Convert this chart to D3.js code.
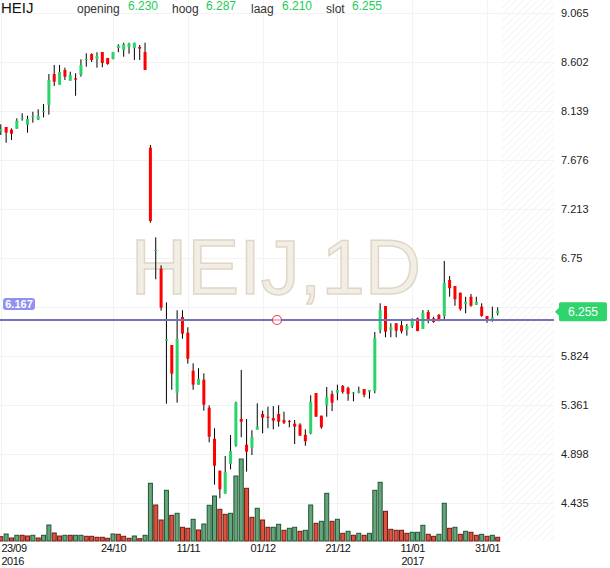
<!DOCTYPE html>
<html>
<head>
<meta charset="utf-8">
<script src="https://cdn.jsdelivr.net/npm/d3@7"></script>
<style>
body { margin: 0; background: #fff; }
svg { font-family: "Liberation Sans", Arial, sans-serif; display: block; }
</style>
</head>
<body>
<svg id="chart" width="610" height="568"></svg>
<script>
//data//
var dates = ["2016-09-23","2016-09-26","2016-09-27","2016-09-28","2016-09-29","2016-09-30",
  "2016-10-03","2016-10-04","2016-10-05","2016-10-06","2016-10-07","2016-10-10","2016-10-11","2016-10-12","2016-10-13","2016-10-14",
  "2016-10-17","2016-10-18","2016-10-19","2016-10-20","2016-10-21","2016-10-24","2016-10-25","2016-10-26","2016-10-27","2016-10-28","2016-10-31",
  "2016-11-01","2016-11-02","2016-11-03","2016-11-04","2016-11-07","2016-11-08","2016-11-09","2016-11-10","2016-11-11",
  "2016-11-14","2016-11-15","2016-11-16","2016-11-17","2016-11-18","2016-11-21","2016-11-22","2016-11-23","2016-11-24","2016-11-25",
  "2016-11-28","2016-11-29","2016-11-30","2016-12-01","2016-12-02","2016-12-05","2016-12-06","2016-12-07","2016-12-08","2016-12-09",
  "2016-12-12","2016-12-13","2016-12-14","2016-12-15","2016-12-16","2016-12-19","2016-12-20","2016-12-21","2016-12-22","2016-12-23",
  "2016-12-27","2016-12-28","2016-12-29","2016-12-30","2017-01-02","2017-01-03","2017-01-04","2017-01-05","2017-01-06",
  "2017-01-09","2017-01-10","2017-01-11","2017-01-12","2017-01-13","2017-01-16","2017-01-17","2017-01-18","2017-01-19","2017-01-20",
  "2017-01-23","2017-01-24","2017-01-25","2017-01-26","2017-01-27","2017-01-30","2017-01-31","2017-02-01","2017-02-02"];

var open = [7.950,7.991,7.965,7.975,8.066,8.012,8.085,8.060,8.130,8.199,
  8.491,8.390,8.529,8.428,8.451,8.485,8.624,8.680,8.633,8.699,
  8.643,8.633,8.737,8.718,8.747,8.737,8.747,8.699,7.795,6.822,
  6.652,5.971,5.931,5.480,6.195,6.047,5.688,5.556,5.603,5.338,
  5.045,4.743,4.526,4.809,4.979,5.232,4.989,4.960,5.131,5.279,
  5.253,5.241,5.279,5.222,5.212,5.187,5.178,5.083,5.096,5.477,
  5.263,5.364,5.468,5.480,5.543,5.525,5.471,5.480,5.515,5.490,
  5.499,6.073,6.299,6.073,6.136,6.117,6.073,6.110,6.183,6.082,
  6.243,6.183,6.214,6.205,6.545,6.488,6.425,6.318,6.387,6.309,
  6.293,6.205,6.167,6.230];

var high = [8.016,7.991,7.978,8.073,8.120,8.097,8.135,8.158,8.208,8.491,
  8.577,8.577,8.551,8.513,8.498,8.630,8.687,8.687,8.697,8.699,
  8.643,8.700,8.772,8.787,8.787,8.787,8.766,8.787,7.821,6.948,
  6.684,6.334,5.931,6.259,6.259,6.098,5.758,5.711,5.663,5.361,
  5.144,4.743,4.882,5.080,5.395,5.695,5.232,5.125,5.380,5.310,
  5.348,5.354,5.361,5.301,5.222,5.222,5.191,5.134,5.456,5.477,
  5.263,5.534,5.499,5.556,5.553,5.537,5.487,5.537,5.515,5.506,
  6.054,6.325,6.299,6.136,6.136,6.160,6.129,6.183,6.190,6.261,
  6.261,6.198,6.224,6.725,6.583,6.488,6.425,6.387,6.413,6.387,
  6.325,6.205,6.293,6.287];

var low = [7.915,7.842,7.868,7.975,8.050,7.937,8.031,8.057,8.082,8.107,
  8.378,8.390,8.435,8.428,8.286,8.466,8.560,8.605,8.551,8.555,
  8.579,8.630,8.697,8.655,8.683,8.624,8.624,8.529,7.086,6.552,
  6.255,5.376,5.508,5.386,5.990,5.754,5.508,5.556,5.310,5.011,
  4.611,4.482,4.526,4.756,4.970,5.059,4.734,4.891,5.131,5.096,
  5.144,5.134,5.159,5.184,5.153,4.995,5.074,4.979,5.087,5.253,
  5.140,5.253,5.307,5.408,5.471,5.404,5.399,5.474,5.437,5.423,
  5.474,6.041,6.004,6.004,6.004,6.041,6.019,6.091,6.060,6.082,
  6.136,6.141,6.155,6.160,6.387,6.302,6.255,6.230,6.293,6.309,
  6.198,6.141,6.151,6.210];

var close = [7.969,7.937,7.927,8.050,8.076,8.066,8.095,8.095,8.142,8.435,
  8.419,8.510,8.466,8.482,8.438,8.577,8.633,8.624,8.662,8.595,
  8.586,8.697,8.759,8.772,8.778,8.787,8.731,8.529,7.103,6.828,
  6.283,5.987,5.660,5.987,6.038,5.801,5.556,5.612,5.367,5.064,
  4.790,4.567,4.731,4.929,5.386,5.206,4.923,5.062,5.159,5.244,
  5.244,5.216,5.206,5.197,5.206,5.159,5.074,5.021,5.392,5.253,
  5.153,5.442,5.386,5.506,5.487,5.468,5.480,5.496,5.461,5.506,
  5.997,6.262,6.057,6.098,6.066,6.060,6.110,6.160,6.063,6.236,
  6.167,6.148,6.174,6.519,6.467,6.363,6.271,6.337,6.302,6.340,
  6.205,6.160,6.192,6.255];

//volume in thousands, colour flag 1 = green bar//
var volume = [86,140,60,114,114,100,114,60,114,320,
  160,100,114,114,114,114,94,94,74,74,
  54,140,134,94,54,100,46,114,1154,720,
  420,1014,514,554,274,254,434,220,340,714,
  900,634,534,554,1300,1640,1054,474,654,420,
  274,274,334,214,254,274,194,214,720,354,
  394,954,394,434,154,194,114,154,114,154,
  1014,1174,594,234,214,214,154,174,174,314,
  134,94,134,754,254,274,134,194,174,114,
  134,94,114,74];
var volUp = [0,1,0,1,0,0,1,0,1,1, 0,0,1,0,1,1,0,0,0,0, 0,1,0,0,0,1,0,1,1,0,
  0,1,0,1,0,0,1,0,1,1, 1,0,0,1,1,1,0,0,1,0, 0,1,1,0,1,1,0,1,1,0,
  1,1,0,1,0,1,0,1,0,1, 1,1,0,0,0,0,0,1,1,1, 0,0,1,1,0,1,0,1,0,0,
  1,0,1,0];

var priceTicks = [9.065, 8.602, 8.139, 7.676, 7.213, 6.75, 6.287, 5.824, 5.361, 4.898, 4.435];
var priceLabels = ["9.065","8.602","8.139","7.676","7.213","6.75","","5.824","5.361","4.898","4.435"];
var dateTicks = ["2016-09-23","2016-10-24","2016-11-11","2016-12-01","2016-12-21","2017-01-11","2017-01-31"];
var dateLabels = ["23/09","24/10","11/11","01/12","21/12","11/01","31/01"];
var yearLabels = {"2016-09-23": "2016", "2017-01-11": "2017"};

var symbol = "HEIJ";
var lastPrice = 6.255;
var linePrice = 6.167;
var header = [{label: "opening", value: "6.230"}, {label: "hoog", value: "6.287"},
              {label: "laag", value: "6.210"}, {label: "slot", value: "6.255"}];

//layout//
var plot = {left: 0, right: 554, top: 0, bottom: 541};
var futureStart = 502;
var headX = [77, 172, 251, 326];
var headValX = [128, 206, 282, 352];

var svg = d3.select("#chart");

var x = d3.scalePoint()
          .domain(dates)
          .range([0.8, 497.7]);

var y = d3.scaleLinear()
          .domain([4.435, 9.065])
          .range([503.3, 13.3]);

var yVol = d3.scaleLinear()
             .domain([0, 2000])
             .range([plot.bottom, plot.bottom - 100]);

//hatch for the empty future part//
var defs = svg.append("defs");
defs.append("pattern")
    .attr("id", "hatch")
    .attr("patternUnits", "userSpaceOnUse")
    .attr("width", 5)
    .attr("height", 5)
    .attr("patternTransform", "rotate(45)")
    .append("line")
    .attr("x1", 0).attr("y1", 0)
    .attr("x2", 0).attr("y2", 5)
    .style("stroke", "#ededed")
    .style("stroke-width", 1.2);

svg.append("rect")
   .attr("x", futureStart)
   .attr("y", plot.top)
   .attr("width", plot.right - futureStart)
   .attr("height", plot.bottom - plot.top)
   .style("fill", "url(#hatch)");

//grid//
svg.append("g")
   .selectAll("line")
   .data(priceTicks)
   .enter()
   .append("line")
   .attr("x1", plot.left)
   .attr("x2", plot.right)
   .attr("y1", function(d) { return Math.round(y(d)) + 0.5; })
   .attr("y2", function(d) { return Math.round(y(d)) + 0.5; })
   .style("stroke", "#f3f3f3")
   .style("stroke-width", 1);

svg.append("g")
   .selectAll("line")
   .data(dateTicks)
   .enter()
   .append("line")
   .attr("x1", function(d) { return Math.round(x(d)) + 0.5; })
   .attr("x2", function(d) { return Math.round(x(d)) + 0.5; })
   .attr("y1", plot.top)
   .attr("y2", plot.bottom)
   .style("stroke", "#f3f3f3")
   .style("stroke-width", 1);

//watermark//
svg.append("text")
   .attr("x", 276)
   .attr("y", 294)
   .attr("text-anchor", "middle")
   .style("font-size", "78px")
   .style("fill", "#f2eee6")
   .style("stroke", "#dfd7c6")
   .style("stroke-width", 1.5)
   .text(symbol + ",1D");

//volume bars//
svg.append("g")
   .attr("id", "volume")
   .selectAll("rect")
   .data(dates)
   .enter()
   .append("rect")
   .attr("x", function(d) { return x(d) - 2; })
   .attr("y", function(d, i) { return yVol(volume[i]); })
   .attr("width", 4)
   .attr("height", function(d, i) { return plot.bottom - yVol(volume[i]); })
   .style("fill", function(d, i) { return volUp[i] ? "#66a57c" : "#db5240"; })
   .style("stroke", function(d, i) { return volUp[i] ? "#1f5532" : "#6e1c12"; })
   .style("stroke-width", 1);

//candles//
var candles = svg.append("g")
                 .attr("id", "candles")
                 .selectAll("g")
                 .data(dates)
                 .enter()
                 .append("g");

candles.append("line")
       .attr("x1", function(d) { return x(d); })
       .attr("x2", function(d) { return x(d); })
       .attr("y1", function(d, i) { return y(high[i]); })
       .attr("y2", function(d, i) { return y(low[i]); })
       .style("stroke", "#000")
       .style("stroke-width", 1);

candles.append("rect")
       .attr("x", function(d) { return x(d) - 1.5; })
       .attr("y", function(d, i) { return y(Math.max(open[i], close[i])); })
       .attr("width", 3)
       .attr("height", function(d, i)
                       {
                        return Math.max(1, Math.abs(y(open[i]) - y(close[i])));
                       })
       .style("fill", function(d, i) { return close[i] >= open[i] ? "#2bd46a" : "#ff0000"; });

//horizontal line at 6.167//
svg.append("line")
   .attr("x1", plot.left)
   .attr("x2", plot.right)
   .attr("y1", y(linePrice))
   .attr("y2", y(linePrice))
   .style("stroke", "#7272bd")
   .style("stroke-width", 2);

svg.append("circle")
   .attr("cx", 277)
   .attr("cy", y(linePrice))
   .attr("r", 4.5)
   .style("fill", "#fff")
   .style("fill-opacity", 0.6)
   .style("stroke", "#f04040")
   .style("stroke-width", 1.2);

svg.append("rect")
   .attr("x", 3)
   .attr("y", y(linePrice) - 22)
   .attr("width", 32)
   .attr("height", 12)
   .attr("rx", 3)
   .style("fill", "#9191f2");

svg.append("text")
   .attr("x", 19)
   .attr("y", y(linePrice) - 12)
   .attr("text-anchor", "middle")
   .style("font-size", "11px")
   .style("font-weight", "bold")
   .style("fill", "#fff")
   .text(linePrice.toFixed(3));

//right price axis//
var yAxis = d3.axisRight(y)
              .tickValues(priceTicks)
              .tickSize(0)
              .tickPadding(7)
              .tickFormat(function(d, i) { return priceLabels[i]; });

svg.append("g")
   .attr("transform", "translate(" + plot.right + ",0)")
   .call(yAxis)
   .call(function(g) { g.select(".domain").remove(); })
   .selectAll("text")
   .attr("font-family", null)
   .attr("font-size", null)
   .style("font-size", "11px")
   .style("fill", "#222");

//last price tag//
var ly = y(lastPrice) + 1;
svg.append("path")
   .attr("d", "M555," + ly + " L559," + (ly - 4) + " L559," + (ly - 8) + " Q559," + (ly - 9.5) + " 561," + (ly - 9.5) +
              " L605," + (ly - 9.5) + " Q607," + (ly - 9.5) + " 607," + (ly - 7.5) + " L607," + (ly + 7.5) +
              " Q607," + (ly + 9.5) + " 605," + (ly + 9.5) + " L561," + (ly + 9.5) + " Q559," + (ly + 9.5) + " 559," + (ly + 8) +
              " L559," + (ly + 4) + " Z")
   .style("fill", "#2fd46c");

svg.append("text")
   .attr("x", 583)
   .attr("y", ly + 4.5)
   .attr("text-anchor", "middle")
   .style("font-size", "12px")
   .style("fill", "#fff")
   .text(lastPrice.toFixed(3));

//date axis//
var xAxis = d3.axisBottom(x)
              .tickValues(dateTicks)
              .tickSize(0)
              .tickPadding(3)
              .tickFormat(function(d, i) { return dateLabels[i]; });

var xg = svg.append("g")
            .attr("transform", "translate(0," + plot.bottom + ")")
            .call(xAxis)
            .call(function(g) { g.select(".domain").remove(); });

xg.selectAll("text")
  .attr("font-family", null)
  .attr("font-size", null)
  .style("font-size", "11px")
  .style("letter-spacing", "-0.5px")
  .style("fill", "#111")
  .attr("text-anchor", function(d, i) { return i == 0 ? "start" : "middle"; })
  .attr("x", function(d, i) { return i == 0 ? 1 - x(d) : 0; });

xg.selectAll(".tick")
  .filter(function(d) { return yearLabels[d]; })
  .append("text")
  .attr("y", 23.5)
  .attr("x", function(d) { return d == dates[0] ? 1 - x(d) : 0; })
  .attr("text-anchor", function(d) { return d == dates[0] ? "start" : "middle"; })
  .style("font-size", "11px")
  .style("letter-spacing", "-0.5px")
  .style("fill", "#111")
  .text(function(d) { return yearLabels[d]; });

//header line//
svg.append("text")
   .attr("x", 1)
   .attr("y", 13)
   .style("font-size", "15px")
   .style("fill", "#111")
   .text(symbol);

var hg = svg.append("g")
            .selectAll("g")
            .data(header)
            .enter()
            .append("g");

hg.append("text")
  .attr("x", function(d, i) { return headX[i]; })
  .attr("y", 12.7)
  .style("font-size", "12px")
  .style("fill", "#333")
  .text(function(d) { return d.label; });

hg.append("text")
  .attr("x", function(d, i) { return headValX[i]; })
  .attr("y", 10)
  .style("font-size", "12px")
  .style("fill", "#22cc55")
  .text(function(d) { return d.value; });

console.log("drawn");
</script>
</body>
</html>
